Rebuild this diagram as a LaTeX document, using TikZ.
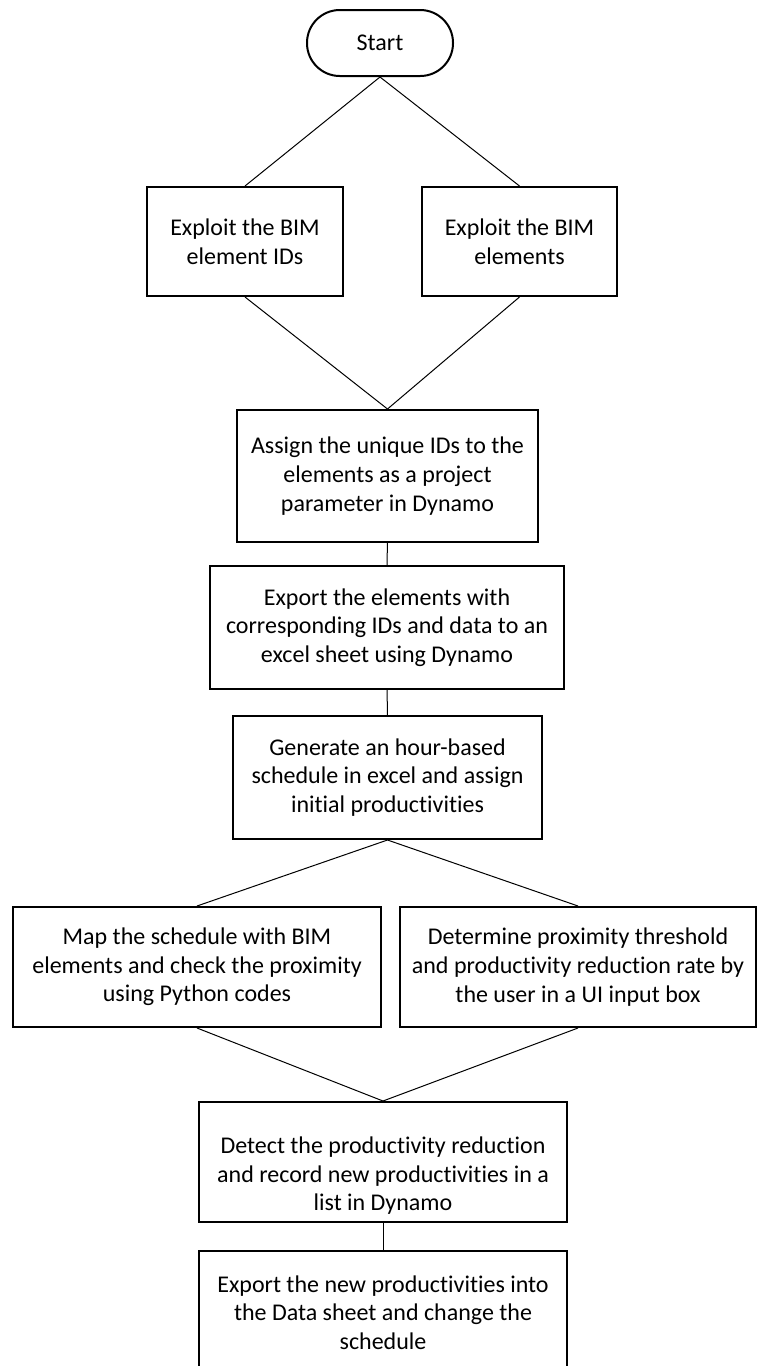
\documentclass[tikz,border=0pt]{standalone}
\usepackage{fontspec}
\setmainfont[Ligatures=NoCommon]{Carlito}
\newlength{\boxline}
\setlength{\boxline}{1pt}

\begin{document}
\begin{tikzpicture}[x=0.5pt,y=-0.5pt,
            stepbox/.style={draw,line width=\boxline,inner sep=0pt,align=center,
                font=\fontsize{12pt}{14.3pt}\selectfont},
            link/.style={line width=0.5pt}]
            \useasboundingbox (0,0) rectangle (757,1366);
            \clip (0,0) rectangle (757,1366);
            \node[stepbox,rounded corners=16.4pt,minimum width=73pt,minimum height=33pt] (start) at (380,43) {Start};
            \node[stepbox,minimum width=98pt,minimum height=54.5pt] (ids) at (245,241.5) {Exploit the BIM\\element IDs};
            \node[stepbox,minimum width=97.5pt,minimum height=54.5pt] (elems) at (519.5,241.5) {Exploit the BIM\\elements};
            \node[stepbox,minimum width=150.5pt,minimum height=66pt] (assign) at (387.5,476) {Assign the unique IDs to the\\elements as a project\\parameter in Dynamo};
            \node[stepbox,minimum width=177pt,minimum height=61.5pt] (export) at (387,627.5) {Export the elements with\\corresponding IDs and data to an\\excel sheet using Dynamo};
            \node[stepbox,minimum width=154.5pt,minimum height=61.5pt] (hours) at (387.5,777.5) {Generate an hour-based\\schedule in excel and assign\\initial productivities};
            \node[stepbox,minimum width=184pt,minimum height=60pt] (map) at (197,967) {Map the schedule with BIM\\elements and check the proximity\\using Python codes};
            \node[stepbox,minimum width=178pt,minimum height=60pt] (limit) at (578,967) {Determine proximity threshold\\and productivity reduction rate by\\the user in a UI input box};
            % text sits low in this box
            \node[stepbox,minimum width=184pt,minimum height=60pt] (detect) at (383,1162) {\rule{0pt}{22pt}Detect the productivity reduction\\and record new productivities in a\\list in Dynamo};
            \node[stepbox,minimum width=184pt,minimum height=61.5pt] (update) at (383,1312.5) {Export the new productivities into\\the Data sheet and change the\\schedule};
            \draw[link](start.south)--(ids.north);
            \draw[link](start.south)--(elems.north);
            \draw[link](ids.south)--(assign.north);
            \draw[link](elems.south)--(assign.north);
            \draw[link](assign)--(export);
            \draw[link](export)--(hours);
            \draw[link](hours.south)--(map.north);
            \draw[link](hours.south)--(limit.north);
            \draw[link](map.south)--(detect.north);
            \draw[link](limit.south)--(detect.north);
            \draw[link](detect)--(update);
\end{tikzpicture}
\end{document}
